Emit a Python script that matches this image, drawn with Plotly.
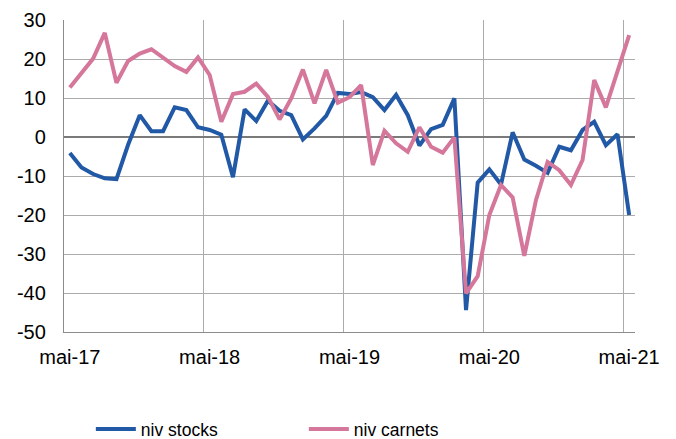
import plotly.graph_objects as go

# Monthly labels, May 2017 -> May 2021 (French short month names, as in the source)
month_names = ["janv", "févr", "mars", "avr", "mai", "juin",
               "juil", "août", "sept", "oct", "nov", "déc"]
months = []
for year in range(17, 22):
    for m, name in enumerate(month_names):
        if (year == 17 and m < 4) or (year == 21 and m > 4):
            continue
        months.append(f"{name}-{year}")

tick_labels = ["mai-17", "mai-18", "mai-19", "mai-20", "mai-21"]
y_ticks = [-50, -40, -30, -20, -10, 0, 10, 20, 30]
y_tick_labels = ["-50", "-40", "-30", "-20", "-10", "0", "10", "20", "30"]

niv_stocks = [
    -4.1, -7.8, -9.5, -10.6, -10.8, -2.0, 5.6, 1.5, 1.5, 7.6, 6.9, 2.5,
    1.8, 0.6, -10.3, 7.1, 4.1, 9.3, 6.7, 5.6, -0.6, 2.2, 5.4, 11.3,
    11.0, 11.5, 10.2, 6.9, 10.8, 5.6, -2.2, 2.0, 3.1, 9.9, -44.4, -11.7,
    -8.3, -12.2, 1.2, -5.8, -7.4, -9.2, -2.5, -3.4, 1.8, 3.9, -2.1, 0.7,
    -20.0,
]
niv_carnets = [
    12.7, 16.3, 20.1, 26.7, 13.9, 19.5, 21.4, 22.5, 20.4, 18.2, 16.7, 20.4,
    15.9, 3.9, 11.0, 11.6, 13.7, 10.3, 4.5, 9.9, 17.3, 8.6, 17.2, 8.8,
    10.2, 13.3, -7.2, 1.6, -1.6, -3.8, 2.5, -2.5, -4.0, -0.1, -40.1, -35.7,
    -20.0, -12.3, -15.5, -30.5, -16.2, -6.4, -8.5, -12.3, -5.9, 14.6, 7.6, 17.0,
    26.1,
]

fig = go.Figure()
fig.add_trace(go.Scatter(x=months, y=niv_stocks, mode="lines", name="niv stocks",
                         line=dict(color="#2159A6", width=4)))
fig.add_trace(go.Scatter(x=months, y=niv_carnets, mode="lines", name="niv carnets",
                         line=dict(color="#D5769B", width=4)))

# the page puts the figure 8px in from the top-left, so margins are offset by that
fig.update_layout(
    width=676,
    height=439,
    margin=dict(l=56, r=49, t=12, b=115, autoexpand=False),
    plot_bgcolor="white",
    paper_bgcolor="white",
    font=dict(family="Liberation Sans, Arial, sans-serif", size=20, color="black"),
    showlegend=True,
    legend=dict(
        orientation="h",
        x=0.047,
        xanchor="left",
        y=-0.311,
        yanchor="middle",
        itemwidth=40,
        entrywidth=158,
        entrywidthmode="pixels",
        font=dict(size=17.5),
    ),
)
fig.update_xaxes(
    type="category",
    categoryorder="array",
    categoryarray=months,
    range=[-0.5, len(months) - 0.5],
    tickmode="array",
    tickvals=tick_labels,
    ticktext=tick_labels,
    tickangle=0,
    tickson="boundaries",
    ticks="",
    showgrid=True,
    gridcolor="#ABABAB",
    gridwidth=1.3,
    showline=True,
    linecolor="#8C8C8C",
    linewidth=1.3,
    ticklabelstandoff=7,
    zeroline=False,
    automargin=False,
)
fig.update_yaxes(
    range=[-50, 30],
    tickmode="array",
    tickvals=y_ticks,
    ticktext=y_tick_labels,
    ticks="",
    showgrid=True,
    gridcolor="#ABABAB",
    gridwidth=1.3,
    showline=True,
    linecolor="#8C8C8C",
    linewidth=1.3,
    zeroline=True,
    zerolinecolor="#7A7A7A",
    zerolinewidth=2,
    ticklabelstandoff=13,
    automargin=False,
)

fig.write_html("out.html")
